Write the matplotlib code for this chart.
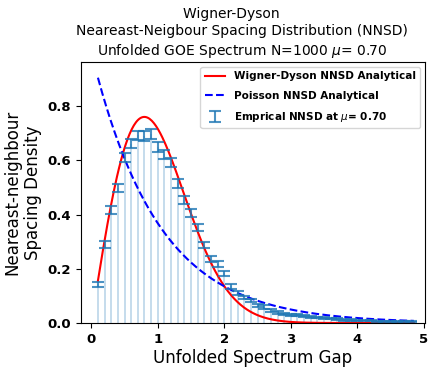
import numpy as np
import matplotlib.pyplot as plt

gap = [0.1, 0.2, 0.3, 0.4, 0.5, 0.6, 0.7, 0.8, 0.9, 1.0,
       1.1, 1.2, 1.3, 1.4, 1.5, 1.6, 1.7, 1.8, 1.9, 2.0,
       2.1, 2.2, 2.3, 2.4, 2.5, 2.6, 2.7, 2.8, 2.9, 3.0,
       3.1, 3.2, 3.3, 3.4, 3.5, 3.6, 3.7, 3.8, 3.9, 4.0,
       4.1, 4.2, 4.3, 4.4, 4.5, 4.6, 4.7, 4.8]
density = [0.143, 0.290, 0.417, 0.498, 0.610, 0.662, 0.692, 0.690, 0.698, 0.650,
           0.622, 0.592, 0.515, 0.455, 0.405, 0.352, 0.287, 0.235, 0.217, 0.183,
           0.136, 0.110, 0.094, 0.083, 0.064, 0.059, 0.046, 0.040, 0.034, 0.031,
           0.029, 0.025, 0.022, 0.020, 0.018, 0.016, 0.014, 0.012, 0.011, 0.010,
           0.009, 0.008, 0.007, 0.006, 0.006, 0.005, 0.004, 0.004]
err = [0.010, 0.013, 0.015, 0.016, 0.017, 0.018, 0.018, 0.018, 0.018, 0.018,
       0.017, 0.017, 0.016, 0.015, 0.014, 0.013, 0.012, 0.011, 0.010, 0.010,
       0.009, 0.008, 0.007, 0.007, 0.006, 0.006, 0.005, 0.005, 0.004, 0.004,
       0.004, 0.004, 0.003, 0.003, 0.003, 0.003, 0.003, 0.003, 0.003, 0.002,
       0.002, 0.002, 0.002, 0.002, 0.002, 0.002, 0.002, 0.002]
mu = 0.70

# analytical curves on a fine grid over the same range
s = np.linspace(min(gap), 4.85, 300)
wigner = np.pi / 2 * s * np.exp(-np.pi * s**2 / 4)
poisson = np.exp(-s)

fig, ax = plt.subplots(figsize=(4.48, 3.73), dpi=100)
fig.subplots_adjust(left=0.18, right=0.949, bottom=0.134, top=0.834)

ax.bar(gap, density, width=0.03, color='C0', alpha=0.25)
ax.plot(s, wigner, 'r-', lw=1.5, label='Wigner-Dyson NNSD Analytical')
ax.plot(s, poisson, 'b--', lw=1.5, label='Poisson NNSD Analytical')
ax.errorbar(gap, density, yerr=err, fmt='none', ecolor='C0', alpha=0.8,
            elinewidth=1.5, capsize=4.5, capthick=1.5,
            label=r'Emprical NNSD at $\mu$= %.2f' % mu)

ax.set_xlim(-0.16, 5.02)
ax.set_ylim(0, 0.963)
ax.set_yticks([0.0, 0.2, 0.4, 0.6, 0.8])
for lab in ax.get_xticklabels() + ax.get_yticklabels():
    lab.set_fontweight('bold')
ax.tick_params(labelsize=9.5)

ax.set_xlabel('Unfolded Spectrum Gap', fontsize=12, labelpad=2)
ax.set_ylabel('Neareast-neighbour\nSpacing Density', fontsize=12)
ax.set_title('Wigner-Dyson     \nNeareast-Neigbour Spacing Distribution (NNSD)\n'
             r'Unfolded GOE Spectrum N=1000 $\mu$= %.2f' % mu,
             fontsize=10, x=0.468, pad=5, linespacing=1.3)

ax.legend(loc='upper right', prop={'weight': 'bold', 'size': 7.5},
          labelspacing=0.9)

fig.savefig('out.png')
